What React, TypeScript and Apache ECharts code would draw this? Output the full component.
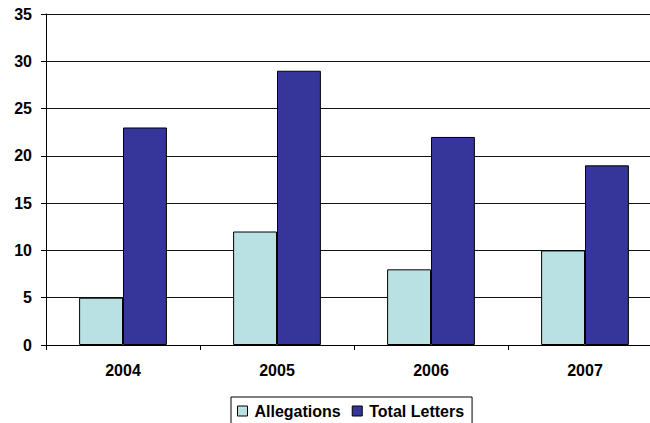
import React, { useEffect, useRef } from "react";
import * as echarts from "echarts";

const years = ["2004", "2005", "2006", "2007"];
const allegations = [5, 12, 8, 10];
const totalLetters = [23, 29, 22, 19];

export default function App() {
  const ref = useRef<HTMLDivElement>(null);

  useEffect(() => {
    document.body.style.margin = "0";
    const chart = echarts.init(ref.current!, null, { renderer: "svg" });
    const font = "'Liberation Sans', Arial, sans-serif";
    chart.setOption({
      animation: false,
      // the canvas runs a little past the visible frame on the right and bottom
      grid: { left: 46, right: 0, top: 14, bottom: 85 },
      legend: {
        left: 231,
        top: 397,
        orient: "horizontal",
        icon: "rect",
        itemWidth: 10,
        itemHeight: 10,
        itemGap: 11,
        padding: [6, 8, 12, 6],
        borderColor: "#000",
        borderWidth: 1,
        textStyle: { fontFamily: font, fontWeight: "bold", fontSize: 16, color: "#000", padding: [0, 0, 0, 2] },
        itemStyle: { borderColor: "#000", borderWidth: 1 },
        data: ["Allegations", "Total Letters"],
      },
      xAxis: {
        type: "category",
        data: years,
        axisLine: { lineStyle: { color: "#000", width: 1 } },
        axisTick: { show: true, length: 5, lineStyle: { color: "#000" } },
        axisLabel: { fontFamily: font, fontWeight: "bold", fontSize: 16, color: "#000", margin: 17 },
      },
      yAxis: {
        type: "value",
        min: 0,
        max: 35,
        interval: 5,
        axisLine: { show: true, lineStyle: { color: "#000", width: 1 } },
        axisTick: { show: true, length: 5, lineStyle: { color: "#000" } },
        axisLabel: { fontFamily: font, fontWeight: "bold", fontSize: 16, color: "#000", margin: 14 },
        splitLine: { lineStyle: { color: "#111", width: 1 } },
      },
      series: [
        {
          name: "Allegations",
          type: "bar",
          data: allegations,
          barGap: "0%",
          barCategoryGap: "43%",
          itemStyle: { color: "#B9E1E4", borderColor: "#000", borderWidth: 1 },
        },
        {
          name: "Total Letters",
          type: "bar",
          data: totalLetters,
          barGap: "0%",
          barCategoryGap: "43%",
          itemStyle: { color: "#35359A", borderColor: "#000", borderWidth: 1 },
        },
      ],
    });
    return () => chart.dispose();
  }, []);

  return (
    <div style={{ width: 650, height: 423, overflow: "hidden", position: "relative", background: "#fff" }}>
      <div ref={ref} style={{ position: "absolute", left: 0, top: 0, width: 662, height: 430 }} />
    </div>
  );
}
